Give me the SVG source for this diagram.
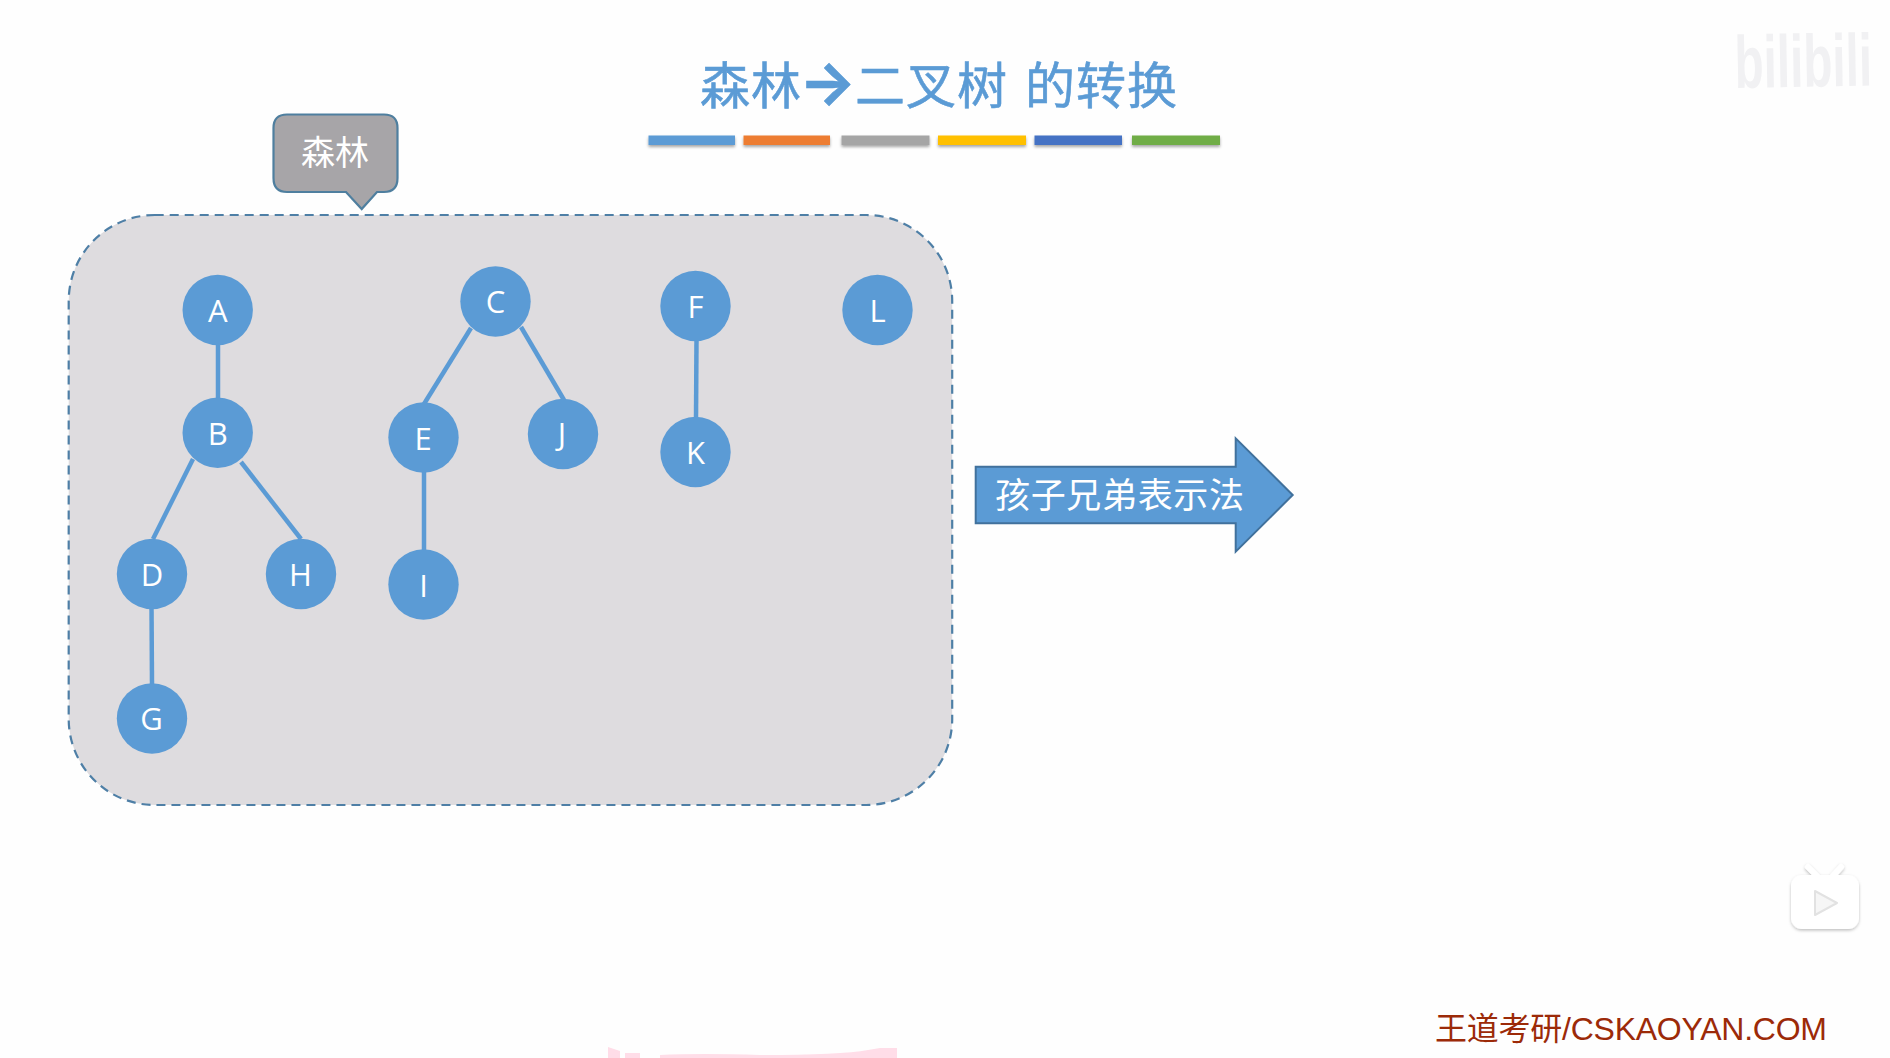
<svg xmlns="http://www.w3.org/2000/svg" width="1890" height="1058" viewBox="0 0 1890 1058">
<style>
.cjk{font-family:"Noto Sans CJK SC","Noto Sans",sans-serif}
.n{fill:#5b9bd5}
.t{font-family:"Open Sans","Liberation Sans",sans-serif;font-size:31px;fill:#fff;text-anchor:middle}
.c{stroke:#5b9bd5;stroke-width:4.5;fill:none}
</style>
<defs>
<filter id="bs" x="-10%" y="-40%" width="120%" height="200%"><feDropShadow dx="0" dy="2" stdDeviation="1.5" flood-color="#000" flood-opacity=".35"/></filter>
<filter id="is" x="-20%" y="-20%" width="140%" height="140%"><feDropShadow dx="0" dy="1.5" stdDeviation="1.5" flood-color="#000" flood-opacity=".25"/></filter>
</defs>
<rect width="1890" height="1058" fill="#fefefe"/>
<g id="title">
<text class="cjk" y="104" font-size="50" fill="#5b9bd5" stroke="#5b9bd5" stroke-width=".6" x="700 751">森林<tspan font-family="Inter,sans-serif" font-weight="700" font-size="60" x="799">→</tspan><tspan x="855 906 957">二叉树</tspan> <tspan x="1025 1076 1127">的转换</tspan></text>
</g>
<g id="bars" filter="url(#bs)">
<rect x="648.5" y="135.5" width="86.5" height="9.5" fill="#5b9bd5"/>
<rect x="743.5" y="135.5" width="86.5" height="9.5" fill="#ed7d31"/>
<rect x="841.5" y="135.5" width="88" height="9.5" fill="#a5a5a5"/>
<rect x="938" y="135.5" width="88" height="9.5" fill="#ffc000"/>
<rect x="1034.5" y="135.5" width="87.5" height="9.5" fill="#4472c4"/>
<rect x="1132" y="135.5" width="88" height="9.5" fill="#70ad47"/>
</g>
<g id="forest-area"><rect x="68.7" y="215" width="883.5" height="590" rx="86" ry="86" fill="#dedcdf" stroke="#4e7fa6" stroke-width="2.2" stroke-dasharray="9 6"/></g>
<g id="callout">
<path d="M287 114.5H384Q397.5 114.5 397.5 128V178Q397.5 192 384 192H377L361.7 209L346 192H287Q273.5 192 273.5 178V128Q273.5 114.5 287 114.5Z" fill="#a7a5a8" stroke="#4f7f9f" stroke-width="2.2"/>
<text class="cjk" x="335" y="165" font-size="34" fill="#fff" text-anchor="middle">森林</text>
</g>
<g id="connectors">
<path class="c" d="M218 342V400"/>
<path class="c" d="M193 459L153 539"/>
<path class="c" d="M241 462L301 539"/>
<path class="c" d="M151.5 606L152 685"/>
<path class="c" d="M471 328L424 404"/>
<path class="c" d="M521 327L564 400"/>
<path class="c" d="M424 472V551"/>
<path class="c" d="M696.5 339L696 419"/>
</g>
<g id="node-A"><circle class="n" cx="217.7" cy="310" r="35.2"/><text class="t" x="217.7" y="322">A</text></g>
<g id="node-B"><circle class="n" cx="217.7" cy="432.7" r="35.2"/><text class="t" x="217.7" y="445">B</text></g>
<g id="node-D"><circle class="n" cx="152" cy="574" r="35.2"/><text class="t" x="152" y="586">D</text></g>
<g id="node-H"><circle class="n" cx="301" cy="574" r="35.2"/><text class="t" x="300.5" y="586">H</text></g>
<g id="node-G"><circle class="n" cx="152" cy="718.5" r="35.2"/><text class="t" x="151.5" y="730">G</text></g>
<g id="node-C"><circle class="n" cx="495.5" cy="301.5" r="35.2"/><text class="t" x="495.5" y="313">C</text></g>
<g id="node-E"><circle class="n" cx="423.5" cy="437.5" r="35.2"/><text class="t" x="423" y="450">E</text></g>
<g id="node-J"><circle class="n" cx="563" cy="434" r="35.2"/><text class="t" x="562" y="445">J</text></g>
<g id="node-I"><circle class="n" cx="423.5" cy="584.5" r="35.2"/><text class="t" x="423.5" y="597">I</text></g>
<g id="node-F"><circle class="n" cx="695.5" cy="306" r="35.2"/><text class="t" x="695.5" y="318">F</text></g>
<g id="node-K"><circle class="n" cx="695.5" cy="452" r="35.2"/><text class="t" x="695.5" y="464">K</text></g>
<g id="node-L"><circle class="n" cx="877.5" cy="310" r="35.2"/><text class="t" x="877.5" y="322">L</text></g>
<g id="transform-arrow">
<path d="M975.7 466.7H1235.7V438.3L1292.7 495L1235.7 551.7V523.3H975.7Z" fill="#5b9bd5" stroke="#41719c" stroke-width="2"/>
<text class="cjk" x="995" y="508" font-size="35" fill="#fff" textLength="249">孩子兄弟表示法</text>
</g>
<g id="bilibili-mark"><text transform="translate(1735 88) rotate(-1) scale(1.19 1.85)" font-family="Liberation Sans,sans-serif" font-weight="bold" font-size="40" fill="#f1f1f3">bilibili</text></g>
<g id="tv-icon" filter="url(#is)">
<path d="M1808 867L1817 876M1841 867L1833 876" stroke="#fff" stroke-width="6" stroke-linecap="round"/>
<rect x="1791" y="875" width="68" height="54" rx="11" fill="#fff"/>
<path d="M1815 891L1837 903L1815 915Z" fill="#f6f6f6" stroke="#e2e2e2" stroke-width="2" stroke-linejoin="round"/>
</g>
<g id="footer"><text x="1435" y="1040" font-size="32" fill="#9c2a08" font-family="Liberation Sans,Noto Sans CJK SC,sans-serif" textLength="392">王道考研/CSKAOYAN.COM</text></g>
<path id="bottom-strip" d="M608 1058V1047L620 1051V1058H625V1053H640V1058H660V1055Q700 1053 760 1055Q840 1055 868 1050L880 1048H897V1058Z" fill="#ffdde8"/>
</svg>
